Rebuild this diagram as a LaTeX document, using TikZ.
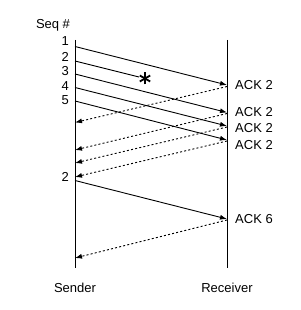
\documentclass[tikz,border=0pt]{standalone}
\usepackage{fontspec}
\setmainfont{Liberation Sans}
\usetikzlibrary{arrows.meta,calc}
\begin{document}
\begin{tikzpicture}[x=1pt,y=-1pt,
  lbl/.style={font=\fontsize{13}{15}\selectfont, inner sep=0pt},
  data/.style={line width=0.9pt, -{Latex[length=7pt,width=5pt]}},
  ack/.style={line width=0.9pt, dash pattern=on 2pt off 2.2pt, -{Latex[length=7pt,width=5pt]}},
  lost/.style={line width=0.9pt},
  life/.style={line width=0.9pt}]
\useasboundingbox (0,0) rectangle (300,310);
% lifelines
\coordinate (sTop) at (75,40);
\coordinate (sBot) at (75,268);
\coordinate (rTop) at (227,40);
\coordinate (rBot) at (227,268);
\draw[life] (sTop) -- (sBot);
\draw[life] (rTop) -- (rBot);
% labels
\node[lbl] (seq) at (53,25) {Seq \#};
\node[lbl, anchor=east] (n1) at (69,41.5) {1};
\node[lbl, anchor=east] (n2) at (69,56.5) {2};
\node[lbl, anchor=east] (n3) at (69,71) {3};
\node[lbl, anchor=east] (n4) at (69,86) {4};
\node[lbl, anchor=east] (n5) at (69,100.5) {5};
\node[lbl, anchor=east] (n2b) at (69,177) {2};
\node[lbl, anchor=west] (a1) at (235,85) {ACK 2};
\node[lbl, anchor=west] (a2) at (235,112.5) {ACK 2};
\node[lbl, anchor=west] (a3) at (235,128.5) {ACK 2};
\node[lbl, anchor=west] (a4) at (235,145) {ACK 2};
\node[lbl, anchor=west] (a6) at (235,219) {ACK 6};
\node[lbl] (snd) at (75,288) {Sender};
\node[lbl] (rcv) at (227,288) {Receiver};
% data segments
\coordinate (d1s) at (75,46.5); \coordinate (d1e) at (227,85);
\coordinate (d2s) at (75,61);   \coordinate (d2e) at (139,77);
\coordinate (d3s) at (75,74);   \coordinate (d3e) at (227,112.5);
\coordinate (d4s) at (75,87.5); \coordinate (d4e) at (227,126);
\coordinate (d5s) at (75,101);  \coordinate (d5e) at (227,140);
\coordinate (d6s) at (75,180.5);\coordinate (d6e) at (227,219);
\draw[data] (d1s) -- (d1e);
\draw[lost] (d2s) -- (d2e);
\draw[data] (d3s) -- (d3e);
\draw[data] (d4s) -- (d4e);
\draw[data] (d5s) -- (d5e);
\draw[data] (d6s) -- (d6e);
% asterisk
\coordinate (star) at (145,78.5);
\foreach \ang in {90,30,-30}
  \draw[line width=1.8pt] ($(star)+(\ang:6)$) -- ($(star)+(\ang+180:6)$);
% acks
\coordinate (k1s) at (227,86.5); \coordinate (k1e) at (75,122.5);
\coordinate (k2s) at (227,113.5);\coordinate (k2e) at (75,150);
\coordinate (k3s) at (227,127); \coordinate (k3e) at (75,163);
\coordinate (k4s) at (227,141); \coordinate (k4e) at (75,177);
\coordinate (k6s) at (227,220); \coordinate (k6e) at (75,258);
\draw[ack] (k1s) -- (k1e);
\draw[ack] (k2s) -- (k2e);
\draw[ack] (k3s) -- (k3e);
\draw[ack] (k4s) -- (k4e);
\draw[ack] (k6s) -- (k6e);
\end{tikzpicture}
\end{document}
